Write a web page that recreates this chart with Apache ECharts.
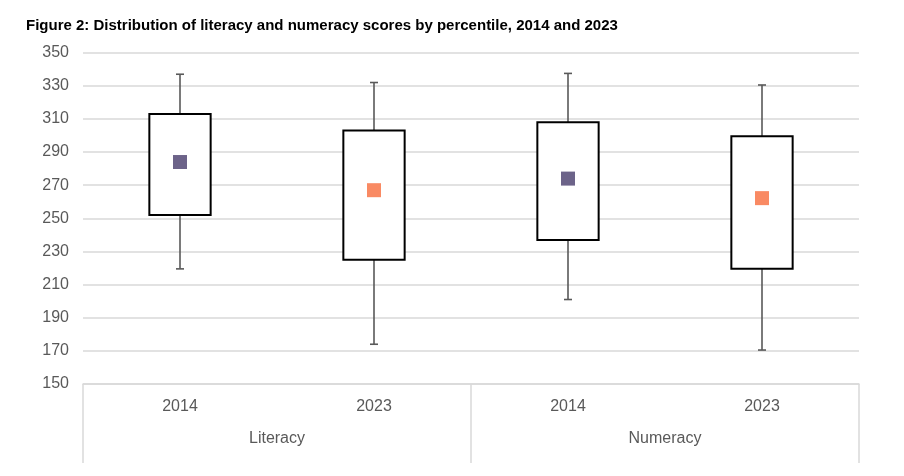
<!DOCTYPE html>
<html>
<head>
<meta charset="utf-8">
<script src="https://cdn.jsdelivr.net/npm/echarts@6/dist/echarts.min.js"></script>
<style>html,body{margin:0;padding:0;background:#fff;}#chart{width:904px;height:476px;}</style>
</head>
<body>
<div id="chart"></div>
<script>
const titleText = 'Figure 2: Distribution of literacy and numeracy scores by percentile, 2014 and 2023';
const years = ['2014', '2023', '2014', '2023'];
const groups = ['Literacy', 'Numeracy'];
// whisker low, box low, box high, whisker high
const whiskerLow = [219.5, 174, 201, 170.5];
const boxLow = [252, 225, 237, 219.5];
const boxHigh = [313, 303, 308, 299.5];
const whiskerHigh = [337, 332, 337.5, 330.5];
const markerValues = [284, 267, 274, 262.2];
const markerColors = ['#6c6389', '#f98a63', '#6c6389', '#f98a63'];
const yTicks = { min: 150, max: 350, interval: 20 };

const boxData = years.map((y, i) => [i, whiskerLow[i], boxLow[i], boxHigh[i], whiskerHigh[i]]);
const markerData = years.map((y, i) => ({ value: [i, markerValues[i]], itemStyle: { color: markerColors[i], opacity: 1 } }));

const chart = echarts.init(document.getElementById('chart'));
chart.setOption({
  animation: false,
  title: {
    text: titleText, left: 21, top: 13,
    textStyle: { fontFamily: 'Liberation Sans, Arial', fontWeight: 'bold', fontSize: 15, color: '#000' }
  },
  grid: { left: 83, right: 45, top: 52.7, bottom: 92 },
  xAxis: [
    {
      type: 'category', data: years, boundaryGap: true,
      axisLine: { lineStyle: { color: '#d9d9d9', width: 1.5 } },
      axisTick: { show: false },
      axisLabel: { color: '#595959', fontSize: 16, fontFamily: 'Liberation Sans, Arial', margin: 15 }
    },
    {
      type: 'category', data: groups, position: 'bottom', boundaryGap: true,
      axisLine: { show: false },
      axisTick: { show: true, length: 79, lineStyle: { color: '#d9d9d9', width: 1.5 } },
      axisLabel: { color: '#595959', fontSize: 16, fontFamily: 'Liberation Sans, Arial', margin: 47 }
    }
  ],
  yAxis: {
    type: 'value', min: yTicks.min, max: yTicks.max, interval: yTicks.interval,
    axisLine: { show: false }, axisTick: { show: false },
    axisLabel: { color: '#595959', fontSize: 16, fontFamily: 'Liberation Sans, Arial', margin: 14 },
    splitLine: { lineStyle: { color: '#d9d9d9', width: 1.5 } }
  },
  series: [
    {
      type: 'custom', xAxisIndex: 0,
      encode: { x: 0, y: [1, 2, 3, 4] },
      data: boxData,
      renderItem: function (params, api) {
        const x = api.value(0);
        const pMin = api.coord([x, api.value(1)]);
        const pQ1 = api.coord([x, api.value(2)]);
        const pQ3 = api.coord([x, api.value(3)]);
        const pMax = api.coord([x, api.value(4)]);
        const bw = api.size([1, 0])[0] * 0.316;
        const cap = 4;
        const wStyle = { stroke: '#595959', lineWidth: 1.6 };
        return {
          type: 'group',
          children: [
            { type: 'line', shape: { x1: pMax[0], y1: pMax[1], x2: pQ3[0], y2: pQ3[1] }, style: wStyle },
            { type: 'line', shape: { x1: pQ1[0], y1: pQ1[1], x2: pMin[0], y2: pMin[1] }, style: wStyle },
            { type: 'line', shape: { x1: pMax[0] - cap, y1: pMax[1], x2: pMax[0] + cap, y2: pMax[1] }, style: wStyle },
            { type: 'line', shape: { x1: pMin[0] - cap, y1: pMin[1], x2: pMin[0] + cap, y2: pMin[1] }, style: wStyle },
            { type: 'rect', shape: { x: pQ3[0] - bw / 2, y: pQ3[1], width: bw, height: pQ1[1] - pQ3[1] },
              style: { fill: '#fff', stroke: '#000', lineWidth: 2 } }
          ]
        };
      }
    },
    {
      type: 'scatter', xAxisIndex: 0, symbol: 'rect', symbolSize: 14,
      data: markerData, z: 5
    }
  ]
});
</script>
</body>
</html>
